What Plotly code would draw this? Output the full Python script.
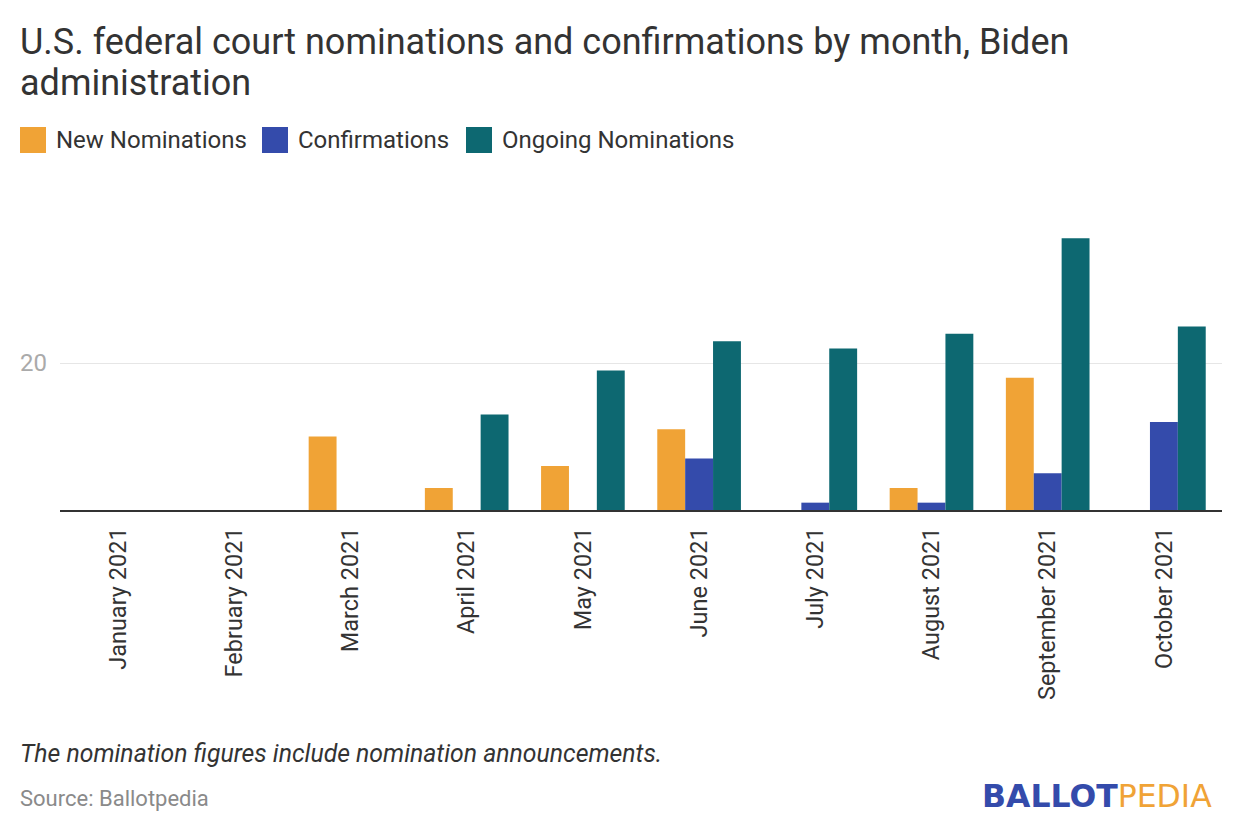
import plotly.graph_objects as go

# data
months = ["January 2021", "February 2021", "March 2021", "April 2021", "May 2021",
          "June 2021", "July 2021", "August 2021", "September 2021", "October 2021"]
new_nominations = [0, 0, 10, 3, 6, 11, 0, 3, 18, 0]
confirmations = [0, 0, 0, 0, 0, 7, 1, 1, 5, 12]
ongoing_nominations = [0, 0, 0, 13, 19, 23, 22, 24, 37, 25]

series_names = ["New Nominations", "Confirmations", "Ongoing Nominations"]
colors = ["#f0a336", "#344bab", "#0d6871"]

FONT = "Roboto"
W, H = 1240, 840
OFF = 8  # page body margin in the browser

# plot area in screen pixels
PL, PR, PT, PB = 60, 1222, 231, 510


def px(sx):
    return (sx - PL) / (PR - PL)


def py(sy):
    return (PB - sy) / (PB - PT)


fig = go.Figure()
for name, vals, col in zip(series_names, [new_nominations, confirmations, ongoing_nominations], colors):
    fig.add_trace(go.Bar(x=months, y=vals, name=name, marker_color=col,
                         marker_line_width=0, showlegend=False,
                         hovertemplate="%{x}<br>" + name + ": %{y}<extra></extra>"))

fig.update_layout(
    width=W, height=H,
    paper_bgcolor="white", plot_bgcolor="white",
    font=dict(family=FONT, color="#333333"),
    margin=dict(l=PL - OFF, r=W - (PR - OFF), t=PT - OFF, b=H - (PB - OFF), pad=0),
    barmode="group", bargap=0.28, bargroupgap=0,
)
fig.update_xaxes(
    tickangle=-90, tickfont=dict(size=23.5, color="#333333"),
    showline=True, linecolor="#333333", linewidth=2,
    ticks="outside", ticklen=6, tickcolor="rgba(0,0,0,0)",
    showgrid=False,
)
fig.update_yaxes(
    range=[0, 38], tickvals=[20], ticktext=[""],
    showgrid=True, gridcolor="#e6e6e6", gridwidth=1,
    zeroline=False, showline=False, fixedrange=True,
)

# y tick label, left aligned like the original
fig.add_annotation(x=px(18), xref="paper", xanchor="left",
                   y=20, yref="y", yanchor="middle", text="20", showarrow=False,
                   font=dict(family=FONT, size=24, color="#aaaaaa"))

# title (two lines)
for txt, cy in [("U.S. federal court nominations and confirmations by month, Biden", 42),
                ("administration", 83)]:
    fig.add_annotation(x=px(18), xref="paper", xanchor="left", y=py(cy), yref="paper", yanchor="middle",
                       text=txt, showarrow=False, align="left",
                       font=dict(family=FONT, size=36, color="#333333"))

# legend drawn by hand
legend_x = [20, 262, 466]
for lx, name, col in zip(legend_x, series_names, colors):
    fig.add_shape(type="rect", xref="paper", yref="paper",
                  x0=px(lx), x1=px(lx + 26), y0=py(153), y1=py(127),
                  fillcolor=col, line_width=0)
    fig.add_annotation(x=px(lx + 34), xref="paper", xanchor="left",
                       y=py(140), yref="paper", yanchor="middle",
                       text=name, showarrow=False,
                       font=dict(family=FONT, size=24, color="#333333"))

# notes
fig.add_annotation(x=px(18), xref="paper", xanchor="left", y=py(753), yref="paper", yanchor="middle",
                   text="<i>The nomination figures include nomination announcements.</i>", showarrow=False,
                   font=dict(family=FONT, size=24.8, color="#333333"))
fig.add_annotation(x=px(18), xref="paper", xanchor="left", y=py(798), yref="paper", yanchor="middle",
                   text="Source: Ballotpedia", showarrow=False,
                   font=dict(family=FONT, size=22, color="#8a8a8a"))
fig.add_annotation(x=px(1214), xref="paper", xanchor="right", y=py(796), yref="paper", yanchor="middle",
                   text="<b><span style='color:#344bab'>BALLOT</span></b><span style='color:#f0a336'>PEDIA</span>",
                   showarrow=False, font=dict(family="DejaVu Sans", size=31.5))

fig.write_html("out.html")
